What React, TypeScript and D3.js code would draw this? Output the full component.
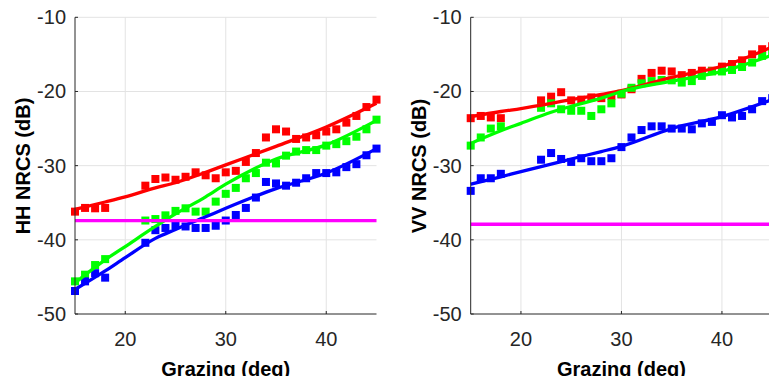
import React from "react";
import * as d3 from "d3";

const grazingPts = [15, 16, 17, 18, 22, 23, 24, 25, 26, 27, 28, 29, 30, 31, 32, 33, 34, 35, 36, 37, 38, 39, 40, 41, 42, 43, 44, 45];

const hhRed = [-36.2, -35.7, -35.75, -35.7, -32.7, -31.8, -31.6, -31.9, -31.5, -30.9, -31.3, -31.7, -30.9, -30.7, -29.5, -28.3, -26.2, -25.1, -25.4, -26.4, -26.2, -25.9, -25.4, -25.1, -24.2, -23.3, -22.1, -21.1];
const hhGreen = [-45.6, -44.7, -43.4, -42.6, -37.4, -37.2, -36.7, -36.1, -35.75, -36.2, -36.2, -34.85, -33.8, -33.0, -31.7, -31.0, -29.6, -29.7, -28.65, -28.1, -27.9, -27.9, -27.3, -27.1, -26.7, -26.1, -25.1, -23.8];
const hhBlue = [-46.9, -45.6, -44.5, -45.1, -40.4, -38.7, -38.4, -38.0, -38.2, -38.4, -38.4, -38.1, -37.4, -36.65, -35.7, -34.3, -32.2, -32.4, -32.7, -32.3, -31.7, -31.0, -31.0, -30.9, -30.2, -29.8, -28.6, -27.7];
const hhNoise = -37.4;

const vvRed = [-23.6, -23.3, -23.5, -23.6, -21.2, -20.7, -20.1, -21.2, -21.1, -20.8, -20.9, -20.6, -20.4, -19.7, -18.3, -17.5, -17.2, -17.3, -17.8, -17.5, -17.2, -17.2, -16.65, -16.3, -15.8, -15.0, -14.3, -13.9];
const vvGreen = [-27.3, -26.2, -25.0, -24.7, -22.2, -21.6, -22.4, -22.6, -22.6, -23.3, -22.4, -21.6, -20.3, -19.5, -18.9, -18.6, -18.45, -18.5, -18.8, -18.6, -17.9, -17.3, -17.3, -17.1, -16.7, -16.1, -15.2, -14.9];
const vvBlue = [-33.4, -31.7, -31.7, -31.1, -29.2, -28.3, -29.1, -29.5, -29.0, -29.4, -29.4, -29.0, -27.5, -26.2, -25.2, -24.7, -24.7, -25.0, -25.0, -25.1, -24.3, -24.1, -23.2, -23.5, -23.3, -22.4, -21.3, -20.9];
const vvNoise = -37.9;

const fitX = [15, 18, 20, 23, 25, 28, 30, 35, 40, 45];
const hhRedFit = [-35.9, -34.9, -34.2, -33.0, -32.3, -30.9, -29.9, -27.4, -24.8, -21.6];
const hhGreenFit = [-45.8, -42.7, -40.9, -38.2, -36.5, -34.2, -32.5, -29.1, -27.2, -23.9];
const hhBlueFit = [-46.7, -44.2, -42.4, -39.8, -38.6, -36.9, -35.75, -33.1, -31.0, -27.7];
const vvRedFit = [-23.4, -22.7, -22.3, -21.6, -21.1, -20.4, -19.9, -18.1, -16.6, -14.0];
const vvGreenFit = [-27.0, -25.3, -24.3, -22.8, -22.0, -20.9, -20.0, -18.6, -17.3, -15.1];
const vvBlueFit = [-32.5, -31.5, -30.8, -29.8, -29.1, -28.1, -27.4, -25.0, -23.4, -21.1];

const xTicks = [20, 30, 40];
const yTicks = [-10, -20, -30, -40, -50];

const COLORS = { red: "#ff0000", green: "#00ff00", blue: "#0000ff", magenta: "#ff00ff" };
const AXIS = "#262626";
const GRID = "#e3e3e3";
const FONT = "'Liberation Sans', Arial, Helvetica, sans-serif";

type PanelProps = {
  left: number;
  ylabel: string;
  red: number[];
  green: number[];
  blue: number[];
  noise: number;
  redFit: number[];
  greenFit: number[];
  blueFit: number[];
};

function Panel({ left, ylabel, red, green, blue, noise, redFit, greenFit, blueFit }: PanelProps) {
  const x = d3.scaleLinear().domain([15, 45]).range([left, left + 301.5]);
  const y = d3.scaleLinear().domain([-50, -10]).range([314, 17.3]);
  const line = d3
    .line<[number, number]>()
    .x((d) => x(d[0]))
    .y((d) => y(d[1]))
    .curve(d3.curveMonotoneX);
  const ms = 8;
  const series = [
    { vals: red, fit: redFit, c: COLORS.red },
    { vals: green, fit: greenFit, c: COLORS.green },
    { vals: blue, fit: blueFit, c: COLORS.blue },
  ];
  const x0 = x(15);
  const x1 = x(45);
  return (
    <g>
      {xTicks.map((t) => (
        <line key={"gx" + t} x1={x(t)} x2={x(t)} y1={y(-50)} y2={y(-10)} stroke={GRID} strokeWidth={1} />
      ))}
      {yTicks.slice(0, 4).map((t) => (
        <line key={"gy" + t} x1={x0} x2={x1} y1={y(t)} y2={y(t)} stroke={GRID} strokeWidth={1} />
      ))}
      {series.map((s, si) => (
        <g key={"m" + si}>
          {s.vals.map((v, i) => (
            <rect key={i} x={x(grazingPts[i]) - ms / 2} y={y(v) - ms / 2} width={ms} height={ms} fill={s.c} />
          ))}
        </g>
      ))}
      {series.map((s, si) => (
        <path
          key={"l" + si}
          d={line(fitX.map((fx, i) => [fx, s.fit[i]] as [number, number])) || ""}
          fill="none"
          stroke={s.c}
          strokeWidth={3.3}
        />
      ))}
      <line x1={x0} x2={x1} y1={y(noise)} y2={y(noise)} stroke={COLORS.magenta} strokeWidth={3.3} />
      <line x1={x0} x2={x0} y1={y(-50)} y2={y(-10)} stroke={AXIS} strokeWidth={1} />
      <line x1={x0} x2={x1} y1={y(-50)} y2={y(-50)} stroke={AXIS} strokeWidth={1} />
      {yTicks.map((t) => (
        <g key={"ty" + t}>
          <line x1={x0} x2={x0 + 3} y1={y(t)} y2={y(t)} stroke={AXIS} strokeWidth={1} />
          <text x={x0 - 9} y={y(t) + 7} textAnchor="end" fontSize={20} fill={AXIS} fontFamily={FONT}>
            {t}
          </text>
        </g>
      ))}
      {xTicks.map((t) => (
        <g key={"tx" + t}>
          <line x1={x(t)} x2={x(t)} y1={y(-50)} y2={y(-50) - 3} stroke={AXIS} strokeWidth={1} />
          <text x={x(t)} y={346} textAnchor="middle" fontSize={20} fill={AXIS} fontFamily={FONT}>
            {t}
          </text>
        </g>
      ))}
      <text x={x(30)} y={376} textAnchor="middle" fontSize={20} fontWeight="bold" fill="#000" fontFamily={FONT}>
        Grazing (deg)
      </text>
      <text
        transform={`translate(${left - 45},${166}) rotate(-90)`}
        textAnchor="middle"
        fontSize={20}
        fontWeight="bold"
        fill="#000"
        fontFamily={FONT}
      >
        {ylabel}
      </text>
    </g>
  );
}

export default function App() {
  return (
    <svg
      width={769}
      height={376}
      style={{ position: "absolute", left: 0, top: 0, background: "#fff" }}
    >
      <rect width={769} height={376} fill="#fff" />
      <Panel
        left={75}
        ylabel="HH NRCS (dB)"
        red={hhRed}
        green={hhGreen}
        blue={hhBlue}
        noise={hhNoise}
        redFit={hhRedFit}
        greenFit={hhGreenFit}
        blueFit={hhBlueFit}
      />
      <Panel
        left={470.7}
        ylabel="VV NRCS (dB)"
        red={vvRed}
        green={vvGreen}
        blue={vvBlue}
        noise={vvNoise}
        redFit={vvRedFit}
        greenFit={vvGreenFit}
        blueFit={vvBlueFit}
      />
    </svg>
  );
}
